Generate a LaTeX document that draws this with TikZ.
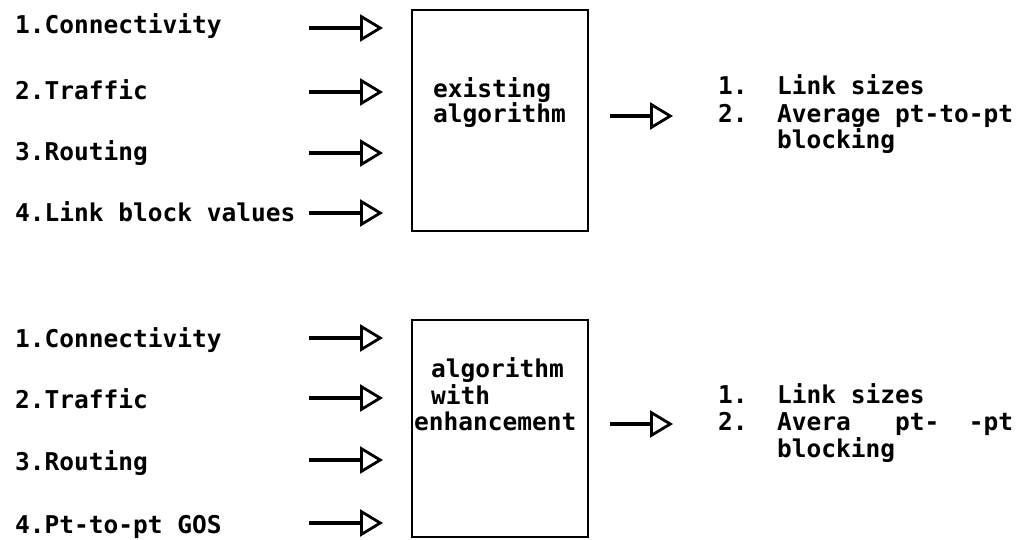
\documentclass[tikz,border=0pt]{standalone}
\usepackage{fontspec}
\usetikzlibrary{arrows.meta}
\newfontfamily\tw{DejaVu Sans Mono Bold}
\begin{document}
\begin{tikzpicture}[x=1pt,y=-1pt,
  lbl/.style={anchor=base west,inner sep=0pt,font=\tw\fontsize{24.5}{27}\selectfont},
  blk/.style={draw,line width=2.8pt,minimum width=176pt,minimum height=#1,inner sep=0pt},
  flow/.style={line width=3.4pt,-{Triangle[open,length=23pt,width=27pt,line width=2.8pt]}}]
\useasboundingbox (0,0) rectangle (1030,540);
% boxes
\node[blk=221pt] (box1) at (500,120.5) {};
\node[blk=217pt] (box2) at (500,428.5) {};
\node[lbl] (b1a) at (433,98) {existing};
\node[lbl] (b1b) at (433,123) {algorithm};
\node[lbl] (b2a) at (431,377) {algorithm};
\node[lbl] (b2b) at (431,404) {with};
\node[lbl] (b2c) at (414,430) {enhancement};
% top inputs
\node[lbl] (t1) at (15,34) {1.Connectivity};
\node[lbl] (t2) at (15,100) {2.Traffic};
\node[lbl] (t3) at (15,161) {3.Routing};
\node[lbl] (t4) at (15,221) {4.Link block values};
\foreach \i/\y in {1/28,2/92,3/153,4/213}{
  \coordinate (ts\i) at (309,\y);
  \coordinate (te\i) at (383,\y);
  \draw[flow] (ts\i) -- (te\i);
}
% bottom inputs
\node[lbl] (u1) at (15,347) {1.Connectivity};
\node[lbl] (u2) at (15,408) {2.Traffic};
\node[lbl] (u3) at (15,470) {3.Routing};
\node[lbl] (u4) at (15,533) {4.Pt-to-pt GOS};
\foreach \i/\y in {1/338,2/398,3/460,4/523}{
  \coordinate (us\i) at (309,\y);
  \coordinate (ue\i) at (383,\y);
  \draw[flow] (us\i) -- (ue\i);
}
% outputs (top)
\coordinate (o1s) at (610,116);
\coordinate (o1e) at (673,116);
\draw[flow] (o1s) -- (o1e);
\node[lbl] (p1n) at (718,95) {1.};
\node[lbl] (p1t) at (777,95) {Link sizes};
\node[lbl] (p2n) at (718,123) {2.};
\node[lbl] (p2t) at (777,123) {Average pt-to-pt};
\node[lbl] (p3t) at (777,149) {blocking};
% outputs (bottom)
\coordinate (o2s) at (610,424);
\coordinate (o2e) at (673,424);
\draw[flow] (o2s) -- (o2e);
\node[lbl] (q1n) at (718,403) {1.};
\node[lbl] (q1t) at (777,403) {Link sizes};
\node[lbl] (q2n) at (718,430) {2.};
\node[lbl] (q2t) at (777,430) {Avera\phantom{ge }pt-\phantom{to}-pt};
\node[lbl] (q3t) at (777,457) {blocking};
\end{tikzpicture}
\end{document}
